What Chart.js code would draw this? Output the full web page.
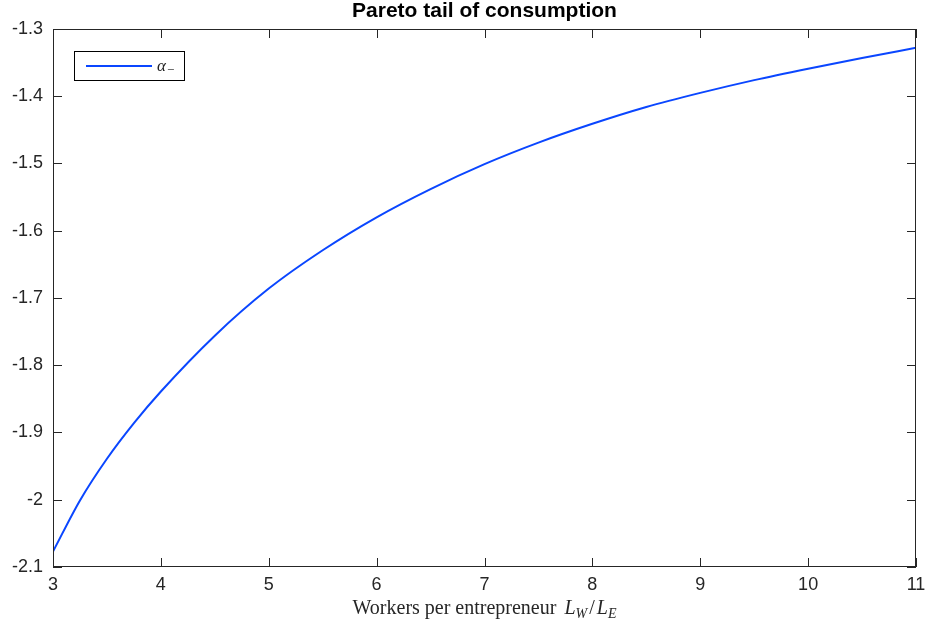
<!DOCTYPE html>
<html>
<head>
<meta charset="utf-8">
<script src="https://cdn.jsdelivr.net/npm/chart.js@4/dist/chart.umd.min.js"></script>
<style>
  body { margin: 0; background: #fff; }
  #wrap { width: 925px; height: 625px; }
</style>
</head>
<body>
<div id="wrap"><canvas id="paretoChart" width="925" height="625"></canvas></div>
<script>
// workers per entrepreneur L_W/L_E
const workersPerEntrepreneur = [3, 3.25, 3.5, 3.75, 4, 4.5, 5, 5.5, 6, 6.5, 7, 7.5, 8, 8.5, 9, 9.5, 10, 10.5, 11];
// pareto tail alpha_-
const alphaMinus = [-2.077, -2.001, -1.939, -1.886, -1.839, -1.756, -1.686, -1.629, -1.580, -1.538,
  -1.501, -1.469, -1.441, -1.416, -1.395, -1.376, -1.359, -1.343, -1.328];
const xTicks = [3, 4, 5, 6, 7, 8, 9, 10, 11];
const yTicks = [-2.1, -2, -1.9, -1.8, -1.7, -1.6, -1.5, -1.4, -1.3];

const AXIS = "#262626";
const SANS = "'Liberation Sans', Arial, Helvetica, sans-serif";
const SERIF = "'Liberation Serif', 'Times New Roman', serif";

// matlab style frame: box all round, ticks pointing inward, title, legend, latex-ish xlabel
const matlabFrame = {
  id: "matlabFrame",
  afterDraw(chart) {
    const { ctx, chartArea: a, scales } = chart;
    const tl = 9;
    ctx.save();
    ctx.strokeStyle = AXIS;
    ctx.lineWidth = 1;
    ctx.strokeRect(a.left + 0.5, a.top + 0.5, a.right - a.left - 1, a.bottom - a.top - 1);
    ctx.beginPath();
    xTicks.forEach(v => {
      const px = Math.round(scales.x.getPixelForValue(v)) + 0.5;
      ctx.moveTo(px, a.bottom); ctx.lineTo(px, a.bottom - tl);
      ctx.moveTo(px, a.top); ctx.lineTo(px, a.top + tl);
    });
    yTicks.forEach(v => {
      const py = Math.round(scales.y.getPixelForValue(v)) + 0.5;
      ctx.moveTo(a.left, py); ctx.lineTo(a.left + tl, py);
      ctx.moveTo(a.right, py); ctx.lineTo(a.right - tl, py);
    });
    ctx.stroke();

    // title
    ctx.fillStyle = "#000";
    ctx.font = "bold 21px " + SANS;
    ctx.textAlign = "center";
    ctx.textBaseline = "middle";
    ctx.fillText("Pareto tail of consumption", (a.left + a.right) / 2, 11);

    // legend
    ctx.fillStyle = "#fff";
    ctx.fillRect(74, 51, 111, 30);
    ctx.strokeStyle = "#000";
    ctx.strokeRect(74.5, 51.5, 110, 29);
    const ds = chart.data.datasets[0];
    ctx.strokeStyle = ds.borderColor;
    ctx.lineWidth = 2;
    ctx.beginPath(); ctx.moveTo(86, 66); ctx.lineTo(152, 66); ctx.stroke();
    ctx.fillStyle = "#222";
    ctx.textAlign = "left";
    ctx.textBaseline = "alphabetic";
    ctx.font = "italic 17px " + SERIF;
    ctx.fillText("α", 157, 71);
    ctx.font = "13px " + SERIF;
    ctx.fillText("−", 167, 74);

    // x label with subscripts
    const parts = [
      { t: "Workers per entrepreneur ", f: "20px " + SERIF, dy: 0, gap: 3 },
      { t: "L", f: "italic 20px " + SERIF, dy: 0, gap: 0 },
      { t: "W", f: "italic 14px " + SERIF, dy: 4, gap: 2 },
      { t: "/", f: "20px " + SERIF, dy: 0, gap: 2 },
      { t: "L", f: "italic 20px " + SERIF, dy: 0, gap: 0 },
      { t: "E", f: "italic 14px " + SERIF, dy: 4, gap: 0 },
    ];
    let total = 0;
    parts.forEach(p => { ctx.font = p.f; p.w = ctx.measureText(p.t).width; total += p.w + p.gap; });
    let x = (a.left + a.right) / 2 - total / 2;
    ctx.fillStyle = "#262626";
    parts.forEach(p => { ctx.font = p.f; ctx.fillText(p.t, x, 614 + p.dy); x += p.w + p.gap; });
    ctx.restore();
  }
};

const ctx = document.getElementById("paretoChart").getContext("2d");
new Chart(ctx, {
  type: "line",
  data: {
    datasets: [{
      label: "α−",
      data: workersPerEntrepreneur.map((x, i) => ({ x, y: alphaMinus[i] })),
      borderColor: "#0a46ff",
      borderWidth: 2,
      pointRadius: 0,
      fill: false,
      cubicInterpolationMode: "monotone",
    }],
  },
  options: {
    responsive: false,
    animation: false,
    layout: { padding: { top: 29, right: 9, left: 0, bottom: 0 } },
    plugins: {
      legend: { display: false },
      title: { display: false },
      tooltip: { enabled: false },
    },
    scales: {
      x: {
        type: "linear",
        min: 3,
        max: 11,
        afterFit: s => { s.height = 58; s.paddingLeft = 0; s.paddingRight = 0; },
        afterBuildTicks: s => { s.ticks = xTicks.map(v => ({ value: v })); },
        grid: { display: false, drawTicks: false },
        border: { display: false },
        ticks: { color: AXIS, padding: 7, font: { size: 18, family: SANS } },
      },
      y: {
        min: -2.1,
        max: -1.3,
        afterFit: s => { s.width = 53; s.paddingTop = 0; s.paddingBottom = 0; },
        afterBuildTicks: s => { s.ticks = yTicks.map(v => ({ value: v })); },
        grid: { display: false, drawTicks: false },
        border: { display: false },
        ticks: {
          color: AXIS,
          padding: 10,
          font: { size: 18, family: SANS },
          callback: v => String(Number(v.toFixed(1))),
        },
      },
    },
  },
  plugins: [matlabFrame],
});
</script>
</body>
</html>
